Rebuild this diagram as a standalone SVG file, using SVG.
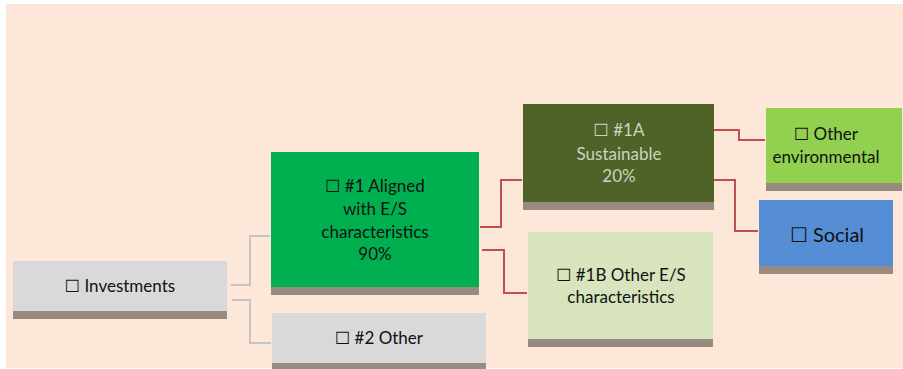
<svg xmlns="http://www.w3.org/2000/svg" width="903" height="369" viewBox="0 0 903 369">
<style>
text{font-family:Lato,"Noto Sans","DejaVu Sans",sans-serif;font-size:17px;fill:#111;text-anchor:middle}
.sh{fill:#9A8B80}
.g{fill:none;stroke:#C4C4C4;stroke-width:2}
.r{fill:none;stroke:#C0504D;stroke-width:2}
</style>
<rect x="6" y="4" width="897" height="364" fill="#FCE7D8"/>
<g id="connectors">
<path class="g" d="M231 285 H250 V236 H270"/>
<path class="g" d="M232 300 H250 V343 H271"/>
<path class="r" d="M480 227 H501 V180 H522"/>
<path class="r" d="M482 250 H504 V293 H527"/>
<path class="r" d="M714 130 H739 V140 H765"/>
<path class="r" d="M712 180 H735 V231 H758"/>
</g>
<g id="investments">
<rect x="13" y="261" width="214" height="50" fill="#D9D9D9"/>
<rect class="sh" x="13" y="311" width="214" height="8"/>
<text x="120" y="292">☐ Investments</text>
</g>
<g id="aligned">
<rect x="271" y="152" width="208" height="135" fill="#00B050"/>
<rect class="sh" x="271" y="287" width="208" height="8"/>
<text x="375" y="192">☐ #1 Aligned</text>
<text x="375" y="215">with E/S</text>
<text x="375" y="238">characteristics</text>
<text x="375" y="260">90%</text>
</g>
<g id="other2">
<rect x="272" y="313" width="214" height="50" fill="#D9D9D9"/>
<rect class="sh" x="272" y="363" width="214" height="6"/>
<text x="379" y="344">☐ #2 Other</text>
</g>
<g id="sustainable">
<rect x="523" y="104" width="191" height="98" fill="#4F6228"/>
<rect class="sh" x="523" y="202" width="191" height="8"/>
<text x="619" y="136" style="fill:#CDD3BE">☐ #1A</text>
<text x="619" y="160" style="fill:#CDD3BE">Sustainable</text>
<text x="619" y="182" style="fill:#CDD3BE">20%</text>
</g>
<g id="otherES">
<rect x="528" y="232" width="185" height="107" fill="#D7E4BD"/>
<rect class="sh" x="528" y="339" width="185" height="8"/>
<text x="621" y="281">☐ #1B Other E/S</text>
<text x="621" y="303">characteristics</text>
</g>
<g id="otherEnv">
<rect x="766" y="108" width="136" height="75" fill="#92D050"/>
<rect class="sh" x="766" y="183" width="136" height="8"/>
<text x="826" y="140">☐ Other</text>
<text x="826" y="163">environmental</text>
</g>
<g id="social">
<rect x="759" y="200" width="134" height="66" fill="#558ED5"/>
<rect class="sh" x="759" y="266" width="134" height="8"/>
<text x="827" y="242" style="font-size:20px">☐ Social</text>
</g>
</svg>
